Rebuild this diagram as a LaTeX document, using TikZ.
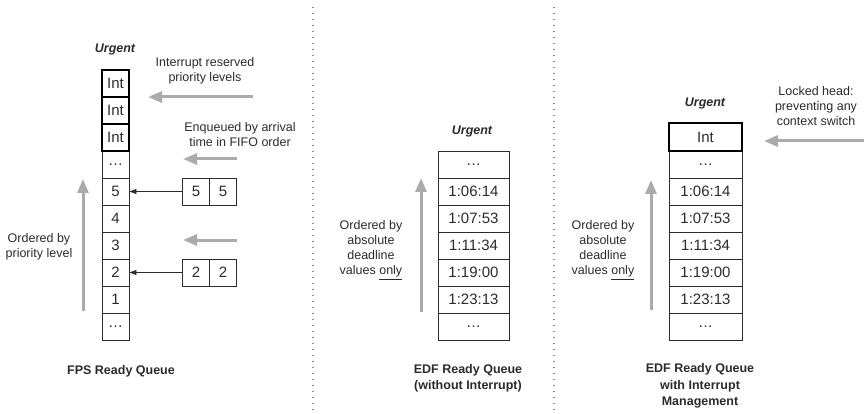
\documentclass[tikz,border=0pt]{standalone}
\usepackage{fontspec}
\setmainfont{Liberation Sans}
\usetikzlibrary{arrows.meta}
\definecolor{ink}{HTML}{2B2B2B}
\definecolor{greyarrow}{HTML}{ABABAB}
\definecolor{sepline}{HTML}{8E8E8E}

\begin{document}
\begin{tikzpicture}[x=1pt,y=-1pt,
  cell/.style={draw=ink,line width=0.8pt,minimum width=27pt,minimum height=27pt,inner sep=0pt,font=\fontsize{15}{15}\selectfont,text=ink},
  intcell/.style={cell,draw=black,line width=2.2pt},
  widecell/.style={cell,minimum width=71pt},
  lbl/.style={align=center,font=\fontsize{12.5}{15}\selectfont,text=ink},
  ttl/.style={align=center,font=\fontsize{12.5}{16.5}\selectfont\bfseries,text=ink},
  urg/.style={font=\fontsize{12.5}{15}\selectfont\bfseries\itshape,text=ink},
  grey/.style={draw=greyarrow,line width=3pt,-{Triangle[length=14pt,width=11pt]}},
  push/.style={draw=ink,line width=0.8pt,-{Triangle[length=7pt,width=5pt]}},
  sep/.style={draw=sepline,line width=1.1pt,dash pattern=on 1.1pt off 4.9pt}]
  \useasboundingbox (0,0) rectangle (864,414);
  \draw[sep] (313,7) -- (313,414);
  \draw[sep] (554,7) -- (554,414);
  % FPS ready queue
  \node[urg] (urgf) at (115,49) {Urgent};
  \foreach \lab [count=\i from 0] in {{\ldots},5,4,3,2,1,{\ldots}}
    \node[cell] (f\i) at (115.5,164.5+27*\i) {\lab};
  \foreach \i in {0,1,2}
    \node[intcell] (int\i) at (115.5,83.5+27*\i) {Int};
  \node[cell] (b5a) at (196,191.5) {5};
  \node[cell] (b5b) at (223,191.5) {5};
  \node[cell] (b2a) at (196,272.5) {2};
  \node[cell] (b2b) at (223,272.5) {2};
  \draw[push] (b5a.west) -- (f1.east);
  \draw[push] (b2a.west) -- (f4.east);
  \node[lbl] (intlbl) at (205,71) {Interrupt reserved\\priority levels};
  \node[lbl] (fifolbl) at (240,134.5) {Enqueued by arrival\\time in FIFO order};
  \coordinate (ia) at (253,97); \coordinate (ib) at (148,97);
  \coordinate (ea) at (237,159); \coordinate (eb) at (183,159);
  \coordinate (ec) at (237,240); \coordinate (ed) at (183,240);
  \draw[grey] (ia) -- (ib);
  \draw[grey] (ea) -- (eb);
  \draw[grey] (ec) -- (ed);
  \coordinate (fa) at (83,311); \coordinate (fb) at (83,179);
  \draw[grey] (fa) -- (fb);
  \node[lbl] (prilbl) at (39,246.5) {Ordered by\\priority level};
  \node[ttl] (fpsttl) at (121,371) {FPS Ready Queue};
  % EDF without interrupt
  \node[urg] (urgm) at (472,131) {Urgent};
  \foreach \lab [count=\i from 0] in {{\ldots},1:06:14,1:07:53,1:11:34,1:19:00,1:23:13,{\ldots}}
    \node[widecell] (m\i) at (473.5,164.5+27*\i) {\lab};
  \coordinate (ma) at (421,312); \coordinate (mb) at (421,178);
  \draw[grey] (ma) -- (mb);
  \node[lbl] (mlbl) at (371,250) {Ordered by\\absolute\\deadline\\values \underline{only}};
  \node[ttl] (mttl) at (468,378.5) {EDF Ready Queue\\(without Interrupt)};
  % EDF with interrupt management
  \node[urg] (urgr) at (705,103) {Urgent};
  \foreach \lab [count=\i from 0] in {{\ldots},1:06:14,1:07:53,1:11:34,1:19:00,1:23:13,{\ldots}}
    \node[widecell,minimum width=73pt] (r\i) at (705.5,164.5+27*\i) {\lab};
  \node[intcell,minimum width=73pt,minimum height=28pt] (rint) at (705.5,137) {Int};
  \coordinate (la) at (864,141); \coordinate (lb) at (764,141);
  \draw[grey] (la) -- (lb);
  \node[lbl] (locklbl) at (816,106) {Locked head:\\preventing any\\context switch};
  \coordinate (ra) at (651,310); \coordinate (rb) at (651,180);
  \draw[grey] (ra) -- (rb);
  \node[lbl] (rlbl) at (603,250) {Ordered by\\absolute\\deadline\\values \underline{only}};
  \node[ttl] (rttl) at (700,386) {EDF Ready Queue\\with Interrupt\\Management};
\end{tikzpicture}
\end{document}
